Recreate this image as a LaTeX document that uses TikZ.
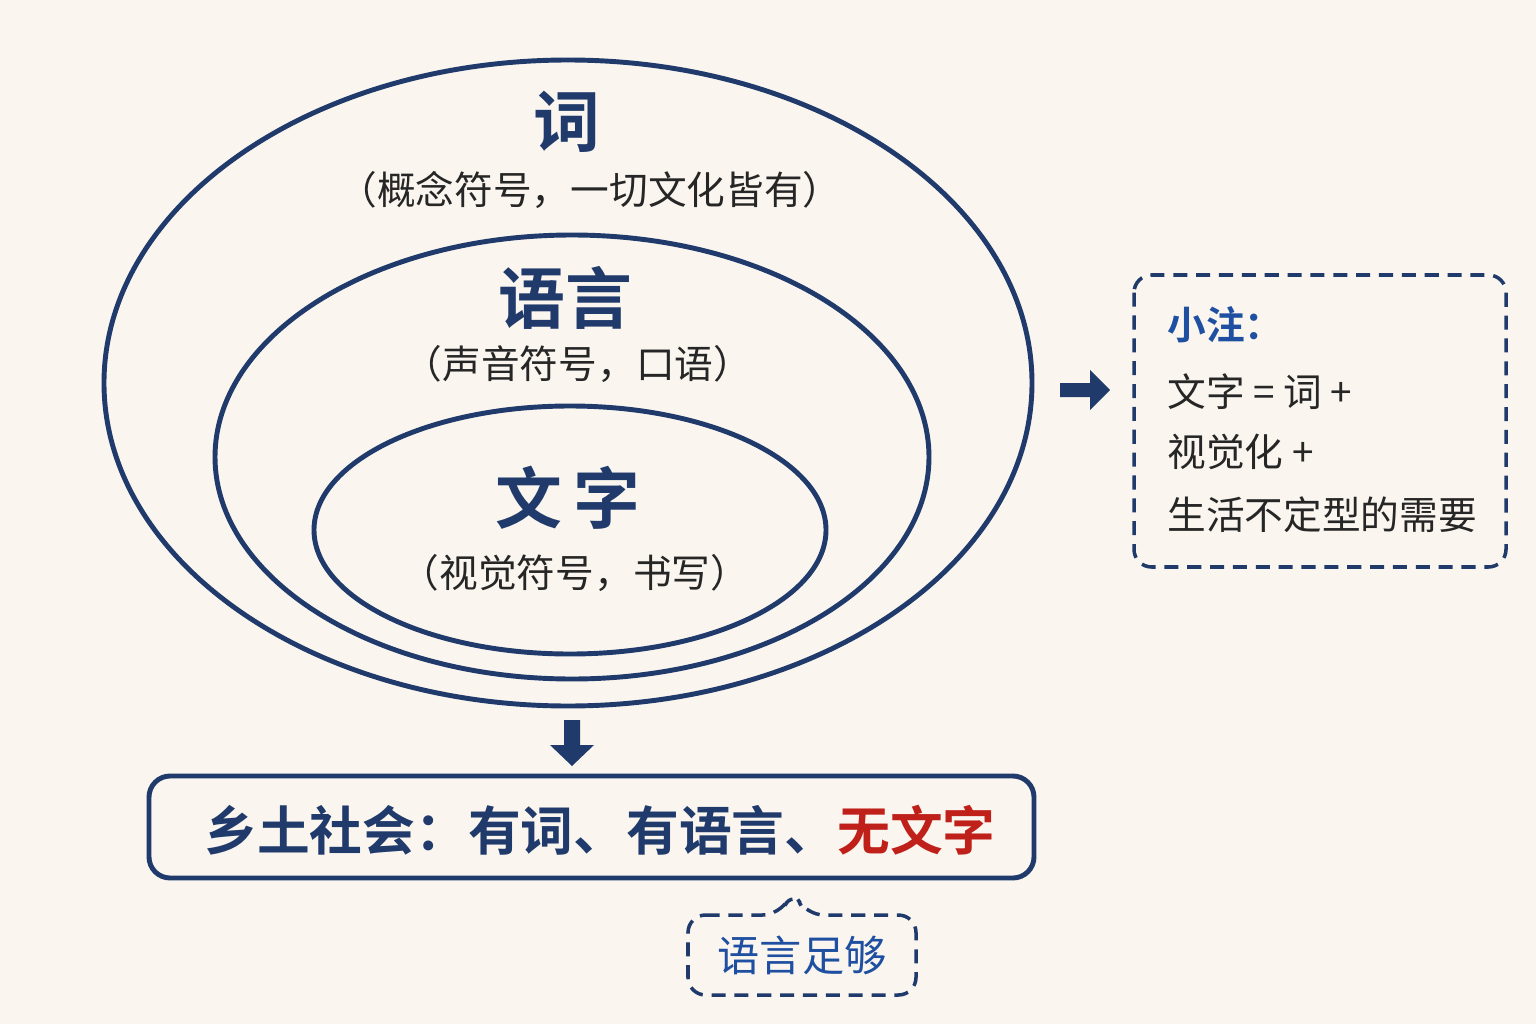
\documentclass[tikz,border=0pt]{standalone}
\usepackage{fontspec}
\setmainfont{Noto Sans CJK SC}
\newfontfamily\cjkb{Noto Sans CJK SC Bold}
\definecolor{navy}{HTML}{1F3A6B}
\definecolor{paper}{HTML}{FAF6EF}
\definecolor{redtxt}{HTML}{C0201A}
\definecolor{bluetxt}{HTML}{1F4FA0}
\tikzset{
  ring/.style={draw=navy, line width=1.4pt},
  title/.style={text=navy, font=\cjkb\fontsize{19}{22}\selectfont},
  sub/.style={text=black!85, font=\fontsize{11}{13}\selectfont},
  note/.style={text=black!85, font=\fontsize{11}{13}\selectfont, anchor=west},
  dashbox/.style={draw=navy, line width=1pt, dashed, dash pattern=on 4pt off 2.5pt, rounded corners=5pt},
  block/.style={fill=navy, draw=none}
}
\begin{document}
\begin{tikzpicture}[x=0.01cm, y=-0.01cm]
  \fill[paper] (0,0) rectangle (1536,1024);
  \useasboundingbox (0,0) rectangle (1536,1024);
  % nested ellipses
  \draw[ring] (568,383) ellipse [x radius=464, y radius=323];
  \draw[ring] (572,457) ellipse [x radius=357, y radius=222];
  \draw[ring] (570,530) ellipse [x radius=256, y radius=124];
  \node[title] (ci) at (567,122) {词};
  \node[sub] (cisub) at (590,190) {（概念符号，一切文化皆有）};
  \node[title] (yy) at (565,298) {语言};
  \node[sub] (yysub) at (578,364) {（声音符号，口语）};
  \node[title] (wz) at (568,498) {文\,字};
  \node[sub] (wzsub) at (575,573) {（视觉符号，书写）};
  % right arrow and note
  \fill[block] (1060,383) -- (1090,383) -- (1090,370) -- (1110,390) -- (1090,410) -- (1090,397) -- (1060,397) -- cycle;
  \draw[dashbox] (1134,275) rectangle (1506,567);
  \node[note, text=bluetxt, font=\cjkb\fontsize{11}{13}\selectfont] (xz) at (1155,325) {小注：};
  \node[note] (n1) at (1155,392) {文字 = 词 +};
  \node[note] (n2) at (1155,452) {视觉化 +};
  \node[note] (n3) at (1155,515) {生活不定型的需要};
  % down arrow and result
  \fill[block] (564,720) -- (580,720) -- (580,745) -- (594,745) -- (572,766) -- (550,745) -- (564,745) -- cycle;
  \draw[draw=navy, line width=1.4pt, rounded corners=6pt] (149,776) rectangle (1034,878);
  \node[text=navy, font=\cjkb\fontsize{15}{18}\selectfont] (res) at (600,830)
    {乡土社会：有词、有语言、\textcolor{redtxt}{无文字}};
  % callout
  \draw[dashbox] (688,915) -- (780,915) -- (793,890) -- (806,915) -- (916,915)
    -- (916,995) -- (688,995) -- cycle;
  \node[text=bluetxt, font=\fontsize{12}{14}\selectfont] (enough) at (802,955) {语言足够};
\end{tikzpicture}
\end{document}
